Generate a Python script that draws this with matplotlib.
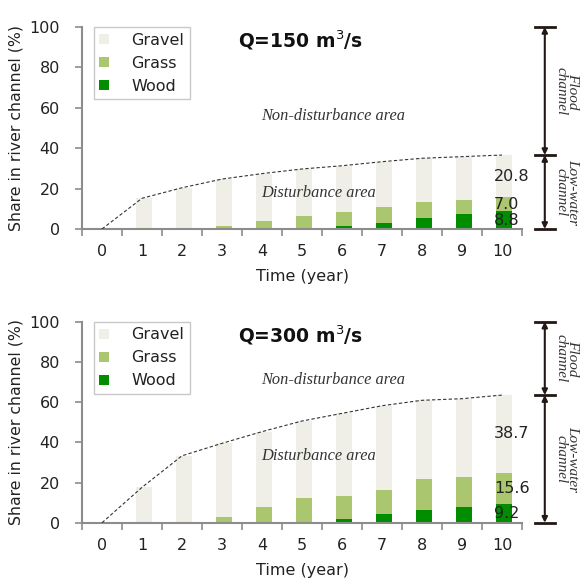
import numpy as np
import matplotlib
matplotlib.use("Agg")
from matplotlib import pyplot as plt

# 数据
years = ["0", "1", "2", "3", "4", "5", "6", "7", "8", "9", "10"]

total_150 = [0, 15.2, 20.4, 24.7, 27.4, 29.7, 31.3, 33.3, 35.0, 35.8, 36.6]
wood_150 = [0, 0, 0, 0, 0, 0, 1.5, 3.1, 5.6, 7.6, 8.8]
grass_150 = [0, 0, 0, 1.5, 4.1, 6.6, 7.1, 7.8, 7.9, 6.8, 7.0]

total_300 = [0, 17.6, 33.3, 39.5, 45.3, 50.6, 54.4, 58.2, 60.9, 61.7, 63.5]
wood_300 = [0, 0, 0, 0, 0, 0, 1.8, 4.5, 6.3, 7.8, 9.2]
grass_300 = [0, 0, 0, 2.8, 8.0, 12.3, 11.3, 11.9, 15.4, 14.9, 15.6]

c_gravel = "#EFEFE7"
c_grass = "#AAC66E"
c_wood = "#008E00"
c_axis = "#8C8C8C"
c_arrow = "#231815"

fig = plt.figure(figsize=(5.8, 5.81), dpi=100)


def panel(rect, total, wood, grass, title, ytxt_non, ytxt_dis):
    ax = fig.add_axes(rect)
    x = np.arange(len(years))
    total = np.array(total)
    wood = np.array(wood)
    grass = np.array(grass)
    gravel = total - wood - grass
    w = 0.42
    xb = x + 0.05
    ax.bar(xb, wood, w, color=c_wood, label="Wood", zorder=2)
    ax.bar(xb, grass, w, bottom=wood, color=c_grass, label="Grass", zorder=2)
    ax.bar(xb, gravel, w, bottom=wood + grass, color=c_gravel, label="Gravel", zorder=2)
    ax.plot(x, total, ls=(0, (3, 2)), color="#333333", lw=0.8, zorder=3)

    ax.set_xlim(-0.5, 10.5)
    ax.set_ylim(0, 100)
    ax.set_yticks([0, 20, 40, 60, 80, 100])
    ax.set_xticks(x)
    ax.set_xticklabels(years)
    ax.set_xticks(np.arange(-0.5, 11, 1), minor=True)
    ax.tick_params(axis="x", which="major", length=0, pad=11, labelsize=11.5, labelcolor="#222222")
    ax.tick_params(axis="x", which="minor", length=5, color=c_axis, width=1.2)
    ax.tick_params(axis="y", length=5, pad=11, color=c_axis, width=1.2, labelsize=11.5,
                   labelcolor="#222222")
    for s in ["top", "right"]:
        ax.spines[s].set_visible(False)
    for s in ["left", "bottom"]:
        ax.spines[s].set_color(c_axis)
        ax.spines[s].set_linewidth(1.5)
    ax.set_ylabel("Share in river channel (%)", fontsize=11.3, color="#222222", labelpad=4)
    ax.set_xlabel("Time (year)", fontsize=11.5, color="#222222", labelpad=7)

    h, l = ax.get_legend_handles_labels()
    leg = ax.legend(h[::-1], l[::-1], loc="upper left", bbox_to_anchor=(0.027, 1.0),
                    fontsize=11.5, frameon=True, fancybox=False, edgecolor="#BBBBBB",
                    handlelength=0.6, handleheight=0.6, labelspacing=0.5,
                    handletextpad=1.4, borderpad=0.35, borderaxespad=0)
    for t in leg.get_texts():
        t.set_color("#222222")

    ax.text(0.355, 0.935, title, transform=ax.transAxes, fontsize=13.5,
            fontweight="bold", ha="left", va="center", color="#111111")
    ax.text(5.77, ytxt_non, "Non-disturbance area", ha="center", va="center",
            family="Liberation Serif", style="italic", fontsize=11.8, color="#333333")
    ax.text(5.42, ytxt_dis, "Disturbance area", ha="center", va="center",
            family="Liberation Serif", style="italic", fontsize=11.8, color="#333333")

    # 末端数值
    top = total[-1]
    vals = [wood[-1], grass[-1], gravel[-1]]
    bots = [0, wood[-1], wood[-1] + grass[-1]]
    for v, b in zip(vals, bots):
        ax.text(9.8, b + v / 2, f"{v:.1f}", ha="left", va="center", fontsize=11.5, color="#222222")

    # 右侧箭头
    xa = 11.07
    for y0, y1 in [(100, top), (top, 0)]:
        ax.annotate("", xy=(xa, y1), xytext=(xa, y0), xycoords="data",
                    arrowprops=dict(arrowstyle="<|-|>", color=c_arrow, lw=1.5,
                                    mutation_scale=8, shrinkA=0, shrinkB=0),
                    annotation_clip=False)
    for y in [100, top, 0]:
        ax.plot([xa - 0.25, xa + 0.25], [y, y], color=c_arrow, lw=2, clip_on=False)
    ax.text(xa + 0.55, (100 + top) / 2, "Flood\nchannel", rotation=270, ha="center", va="center",
            family="Liberation Serif", style="italic", fontsize=11, color="#333333",
            linespacing=0.8, clip_on=False)
    ax.text(xa + 0.55, top / 2, "Low-water\nchannel", rotation=270, ha="center", va="center",
            family="Liberation Serif", style="italic", fontsize=11, color="#333333",
            linespacing=0.8, clip_on=False)
    return ax


panel([0.1414, 0.6059, 0.7586, 0.3477], total_150, wood_150, grass_150,
      "Q=150 m$^3$/s", 56, 18)
panel([0.1414, 0.1003, 0.7586, 0.346], total_300, wood_300, grass_300,
      "Q=300 m$^3$/s", 71, 33)

plt.savefig("out.png", dpi=100)
